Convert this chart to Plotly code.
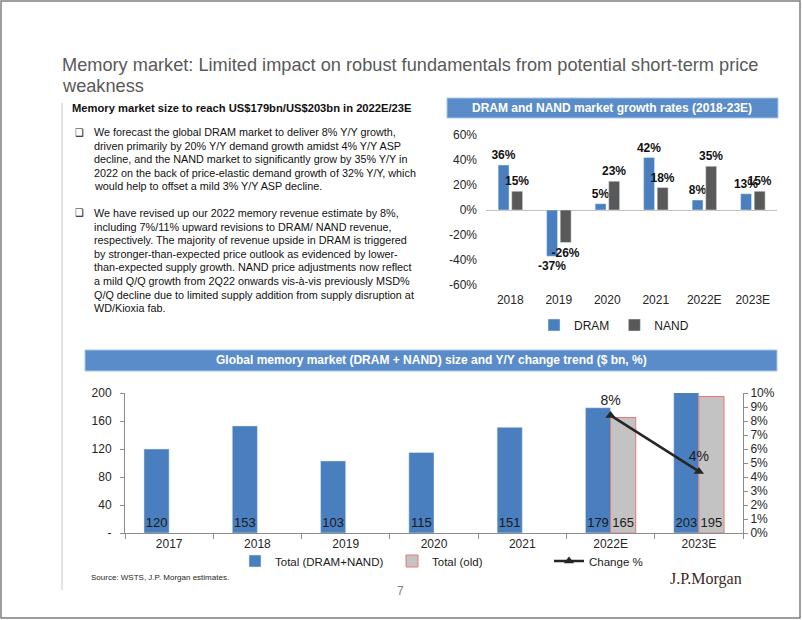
import plotly.graph_objects as go

# ---------------- data ----------------
growth_years = ["2018", "2019", "2020", "2021", "2022E", "2023E"]
dram_growth = [36, -37, 5, 42, 8, 13]
nand_growth = [15, -26, 23, 18, 35, 15]

size_years = ["2017", "2018", "2019", "2020", "2021", "2022E", "2023E"]
total_size = [120, 153, 103, 115, 151, 179, 203]
total_old = [None, None, None, None, None, 165, 195]
change_years = ["2022E", "2023E"]
change_pct = [8.4, 4.4]

left_ticks = [0, 40, 80, 120, 160, 200]
left_ticktext = ["-", "40", "80", "120", "160", "200"]
right_ticks = list(range(0, 11))
top_ticks = [-60, -40, -20, 0, 20, 40, 60]

title_lines = [
    "Memory market: Limited impact on robust fundamentals from potential short-term price",
    "weakness",
]
subhead = "Memory market size to reach US$179bn/US$203bn in 2022E/23E"
bullet1 = [
    "We forecast the global DRAM market to deliver 8% Y/Y growth,",
    "driven primarily by 20% Y/Y demand growth amidst 4% Y/Y ASP",
    "decline, and the NAND market to significantly grow by 35% Y/Y in",
    "2022 on the back of price-elastic demand growth of 32% Y/Y, which",
    "would help to offset a mild 3% Y/Y ASP decline.",
]
bullet2 = [
    "We have revised up our 2022 memory revenue estimate by 8%,",
    "including 7%/11% upward revisions to DRAM/ NAND revenue,",
    "respectively. The majority of revenue upside in DRAM is triggered",
    "by stronger-than-expected price outlook as evidenced by lower-",
    "than-expected supply growth. NAND price adjustments now reflect",
    "a mild Q/Q growth from 2Q22 onwards vis-à-vis previously MSD%",
    "Q/Q decline due to limited supply addition from supply disruption at",
    "WD/Kioxia fab.",
]

# ---------------- style ----------------
W, H = 802, 620
BLUE = "#4a7fbf"
GRAY = "#595959"
HEADER = "#5b8cca"
FONT = "Liberation Sans, Arial, sans-serif"
NARROW = "Liberation Sans Narrow, Arial Narrow, Liberation Sans, sans-serif"


def px(x):
    return x / W


def py(y):
    return 1 - y / H


fig = go.Figure()

# top-right chart (grouped bars with a small gap)
for name, vals, col, off in (("DRAM", dram_growth, BLUE, -0.25), ("NAND", nand_growth, GRAY, 0.03)):
    fig.add_trace(go.Bar(
        x=growth_years, y=vals, name=name, marker_color=col,
        width=0.225, offset=off,
        text=[f"{v}%" for v in vals], textposition="outside", textangle=0,
        textfont=dict(size=12, color="#111111", family=FONT, weight="bold"),
        constraintext="none", cliponaxis=False,
        xaxis="x2", yaxis="y3", legend="legend2",
    ))

# bottom chart
fig.add_trace(go.Bar(
    x=size_years, y=total_size, name="Total (DRAM+NAND)", marker_color=BLUE,
    text=[str(v) for v in total_size], textposition="inside", textangle=0,
    insidetextanchor="start", constraintext="none",
    textfont=dict(size=13, color="#1a1a1a", family=NARROW),
    xaxis="x", yaxis="y",
))
fig.add_trace(go.Bar(
    x=size_years, y=total_old, name="Total (old)", marker_color="#c3c3c3",
    marker_line=dict(color="#e87878", width=1),
    text=[("" if v is None else str(v)) for v in total_old], textposition="inside",
    textangle=0, insidetextanchor="start", constraintext="none",
    textfont=dict(size=13, color="#1a1a1a", family=NARROW),
    xaxis="x", yaxis="y",
))
fig.add_trace(go.Scatter(
    x=change_years, y=change_pct, name="Change %", mode="lines+markers+text",
    line=dict(color="#262626", width=2.5),
    marker=dict(symbol="triangle-up", size=9, color="#262626"),
    text=[f"{v:.0f}%" for v in change_pct], textposition="top center",
    textfont=dict(size=14, color="#1a1a1a", family=NARROW),
    cliponaxis=False,
    xaxis="x", yaxis="y2",
))

axis_font = dict(size=12, color="#262626", family=NARROW)

fig.update_layout(
    width=W, height=H, margin=dict(l=0, r=0, t=0, b=0, autoexpand=False),
    paper_bgcolor="white", plot_bgcolor="rgba(0,0,0,0)",
    font=dict(family=FONT, color="#262626"),
    barmode="group",
    bargap=0.43, bargroupgap=0.0,
    xaxis=dict(domain=[px(125), px(743)], anchor="y", type="category",
               showline=True, linecolor="#8c8c8c", ticks="outside",
               tickson="boundaries", ticklen=5, tickcolor="#8c8c8c",
               tickfont=axis_font, showgrid=False, automargin=False),
    yaxis=dict(domain=[py(533), py(393)], range=[0, 200], tickvals=left_ticks,
               ticktext=left_ticktext, showline=True, linecolor="#8c8c8c",
               ticks="outside", ticklen=4, tickcolor="#8c8c8c",
               tickfont=axis_font, showgrid=False, zeroline=False,
               ticklabelstandoff=6, automargin=False),
    yaxis2=dict(overlaying="y", side="right", anchor="x", range=[0, 10],
                tickvals=right_ticks, ticktext=[f"{v}%" for v in right_ticks],
                showline=True, linecolor="#8c8c8c", ticks="outside", ticklen=4,
                tickcolor="#8c8c8c", tickfont=axis_font, showgrid=False,
                zeroline=False, automargin=False),
    xaxis2=dict(domain=[px(486), px(777)], anchor="y3", type="category",
                showline=False, ticks="", tickfont=axis_font, showgrid=False,
                ticklabelstandoff=6, automargin=False),
    yaxis3=dict(domain=[py(285), py(135)], anchor="x2", range=[-60, 60],
                tickvals=top_ticks, ticktext=[f"{v}%" for v in top_ticks],
                showline=False, showgrid=False, zeroline=True,
                zerolinecolor="#bfbfbf", zerolinewidth=1, tickfont=axis_font,
                ticklabelstandoff=8, automargin=False),
    legend=dict(orientation="h", x=px(235), y=py(561), xanchor="left",
                yanchor="middle", font=dict(size=11.5, family=NARROW, color="#1a1a1a"),
                entrywidth=112, entrywidthmode="pixels", itemwidth=30,
                bgcolor="rgba(0,0,0,0)", traceorder="normal"),
    legend2=dict(orientation="h", x=px(534), y=py(325), xanchor="left",
                 yanchor="middle", font=dict(size=12, family=NARROW, color="#1a1a1a"),
                 itemwidth=30, bgcolor="rgba(0,0,0,0)"),
    showlegend=True,
)

shapes = [
    dict(type="rect", xref="paper", yref="paper", x0=px(1), x1=px(800), y0=py(618), y1=py(1),
         line=dict(color="#7f7f7f", width=1.5), fillcolor="rgba(0,0,0,0)"),
    dict(type="line", xref="paper", yref="paper", x0=px(62), x1=px(62), y0=py(103), y1=py(590),
         line=dict(color="#c8c8c8", width=1)),
    dict(type="rect", xref="paper", yref="paper", x0=px(447), x1=px(778), y0=py(118), y1=py(98),
         line=dict(color="#a9c6e8", width=1), fillcolor=HEADER, layer="below"),
    dict(type="rect", xref="paper", yref="paper", x0=px(85), x1=px(777), y0=py(371), y1=py(350),
         line=dict(color="#a9c6e8", width=1), fillcolor=HEADER, layer="below"),
]

ann = []
for i, t in enumerate(title_lines):
    ann.append(dict(text=t, x=px(60), y=py(65 + 21 * i), xref="paper", yref="paper",
                    xanchor="left", yanchor="middle", showarrow=False,
                    font=dict(size=18.2, color="#595959", family=FONT)))
ann.append(dict(text="<b>" + subhead + "</b>", x=px(70), y=py(108), xref="paper", yref="paper",
                xanchor="left", yanchor="middle", showarrow=False,
                font=dict(size=11.2, color="#111111", family=FONT)))
LS = 13.6
for block, y0 in ((bullet1, 132), (bullet2, 213)):
    ann.append(dict(text="❑", x=px(73), y=py(y0), xref="paper", yref="paper",
                    xanchor="left", yanchor="middle", showarrow=False,
                    font=dict(size=10, color="#111111", family="DejaVu Sans")))
    for i, t in enumerate(block):
        ann.append(dict(text=t, x=px(92), y=py(y0 + LS * i), xref="paper", yref="paper",
                        xanchor="left", yanchor="middle", showarrow=False,
                        font=dict(size=10.8, color="#111111", family=FONT)))
ann.append(dict(text="<b>DRAM and NAND market growth rates (2018-23E)</b>", x=px(612), y=py(108),
                xref="paper", yref="paper", xanchor="center", yanchor="middle",
                showarrow=False, font=dict(size=12, color="white", family=FONT)))
ann.append(dict(text="<b>Global memory market (DRAM + NAND) size and Y/Y change trend ($ bn, %)</b>",
                x=px(431), y=py(360), xref="paper", yref="paper", xanchor="center",
                yanchor="middle", showarrow=False, font=dict(size=12, color="white", family=FONT)))
ann.append(dict(text="Source: WSTS, J.P. Morgan estimates.", x=px(89), y=py(577), xref="paper",
                yref="paper", xanchor="left", yanchor="middle", showarrow=False,
                font=dict(size=8, color="#262626", family=FONT)))
ann.append(dict(text="7", x=px(400), y=py(591), xref="paper", yref="paper", xanchor="center",
                yanchor="middle", showarrow=False, font=dict(size=12, color="#7f7f7f", family=FONT)))
ann.append(dict(text="J.P.Morgan", x=px(706), y=py(579), xref="paper", yref="paper",
                xanchor="center", yanchor="middle", showarrow=False,
                font=dict(size=16, color="#3b2a1e", family="Liberation Serif, serif")))

fig.update_layout(shapes=shapes, annotations=ann)

fig.write_html(
    "out.html",
    config={"displayModeBar": False},
    post_script="document.body.style.margin='0';document.body.style.overflow='hidden';",
)
